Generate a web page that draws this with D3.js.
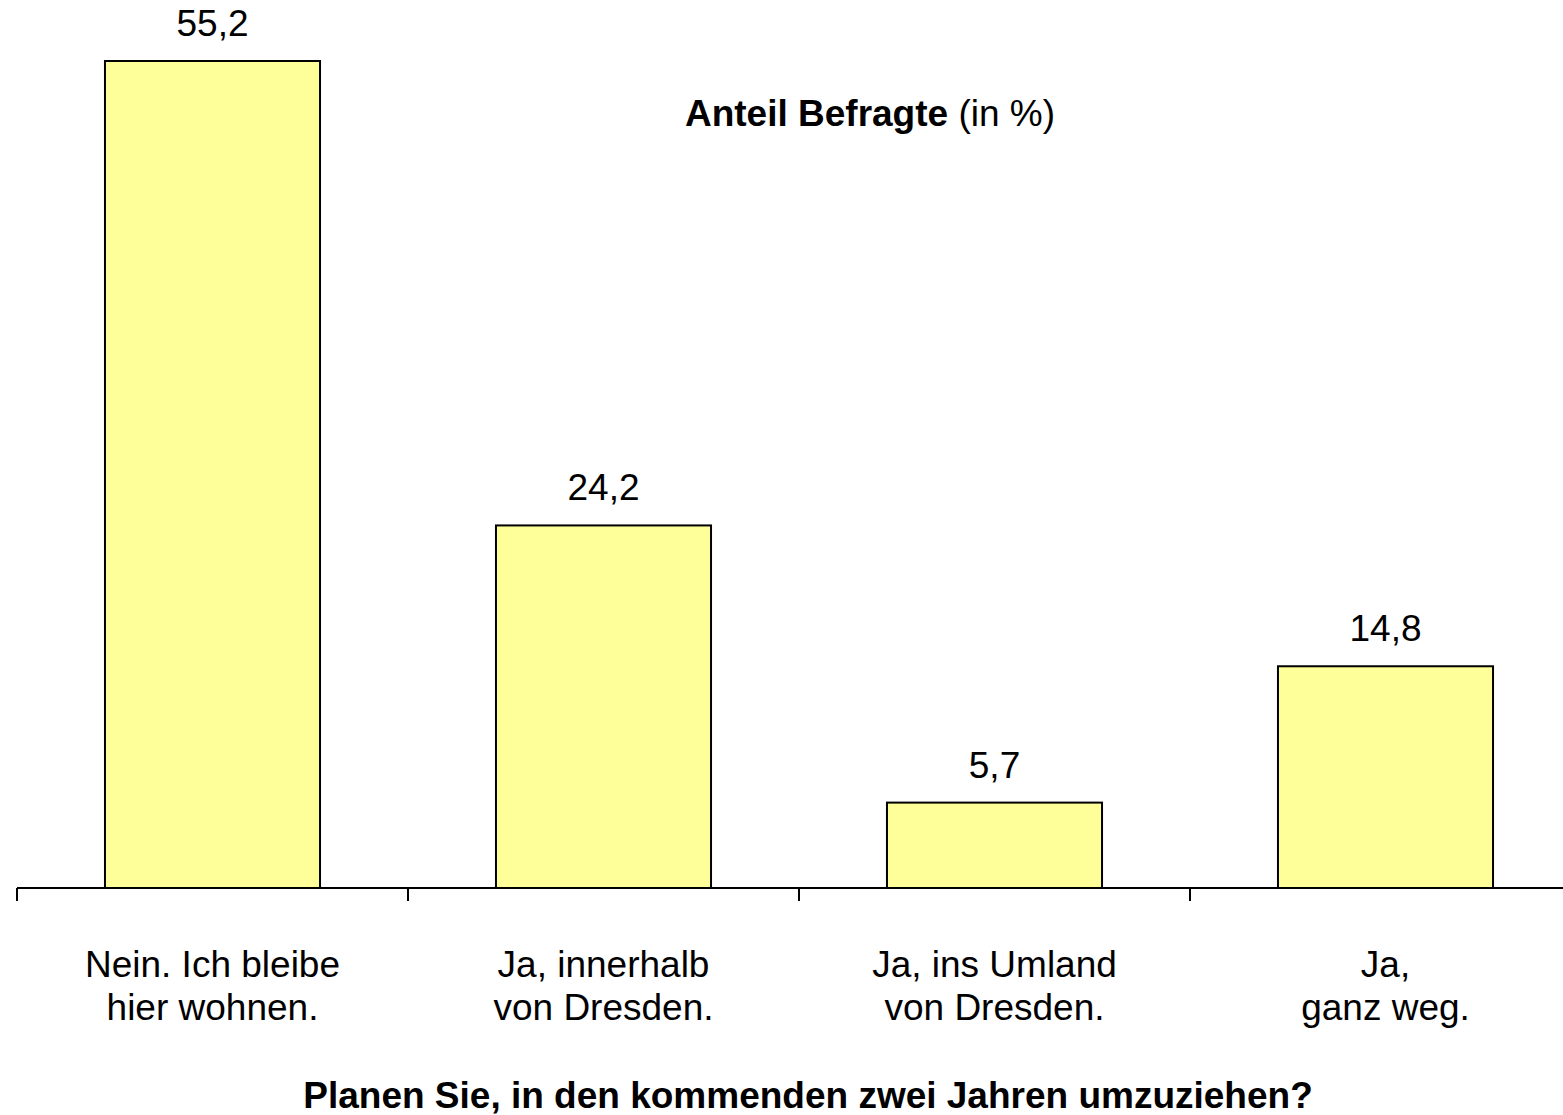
<!DOCTYPE html>
<html>
<head>
<meta charset="utf-8">
<script src="https://cdn.jsdelivr.net/npm/d3@7"></script>
<style>
  html, body { margin: 0; padding: 0; background: #fff; }
  svg { display: block; font-family: "Liberation Sans", Arial, sans-serif; }
</style>
</head>
<body>
<svg id="chart" width="1563" height="1115"></svg>
<script>
// Survey answers: "Planen Sie, in den kommenden zwei Jahren umzuziehen?"
const categories = [
  ["Nein. Ich bleibe", "hier wohnen."],
  ["Ja, innerhalb", "von Dresden."],
  ["Ja, ins Umland", "von Dresden."],
  ["Ja,", "ganz weg."]
];
const values = [55.2, 24.2, 5.7, 14.8];
const valueLabels = ["55,2", "24,2", "5,7", "14,8"];

const svg = d3.select("#chart");
const baseY = 888;
const x0 = 17, band = 391;
const fs = 37;

const x = d3.scaleBand()
  .domain(d3.range(categories.length))
  .range([x0, x0 + band * categories.length])
  .paddingInner(0.45)
  .paddingOuter(0.225);

const y = d3.scaleLinear().domain([0, 55.2]).range([baseY, 61]);

// Bars
svg.append("g").selectAll("rect")
  .data(values)
  .join("rect")
  .attr("x", (d, i) => x(i))
  .attr("y", d => y(d))
  .attr("width", x.bandwidth())
  .attr("height", d => baseY - y(d))
  .attr("fill", "#FFFF99")
  .attr("stroke", "#000")
  .attr("stroke-width", 2);

// Category axis: line with ticks at band boundaries
const axis = svg.append("g");
axis.append("line")
  .attr("x1", x0).attr("x2", 1563)
  .attr("y1", baseY).attr("y2", baseY)
  .attr("stroke", "#000").attr("stroke-width", 2);
axis.selectAll("line.tick")
  .data(d3.range(categories.length))
  .join("line")
  .attr("class", "tick")
  .attr("x1", i => x0 + i * band).attr("x2", i => x0 + i * band)
  .attr("y1", baseY).attr("y2", baseY + 13)
  .attr("stroke", "#000").attr("stroke-width", 2);

// Category labels (two lines each)
const catText = svg.append("g").selectAll("text")
  .data(categories)
  .join("text")
  .attr("text-anchor", "middle")
  .attr("font-size", fs)
  .attr("fill", "#000");
catText.selectAll("tspan")
  .data((d, i) => d.map(t => ({ t, i })))
  .join("tspan")
  .attr("x", d => x(d.i) + x.bandwidth() / 2)
  .attr("y", (d, j) => 977 + j * 43)
  .text(d => d.t);

// Value labels above bars
svg.append("g").selectAll("text")
  .data(values)
  .join("text")
  .attr("x", (d, i) => x(i) + x.bandwidth() / 2)
  .attr("y", d => y(d) - 25)
  .attr("text-anchor", "middle")
  .attr("font-size", fs)
  .attr("fill", "#000")
  .text((d, i) => valueLabels[i]);

// Series title
const title = svg.append("text")
  .attr("x", 870).attr("y", 126)
  .attr("text-anchor", "middle")
  .attr("font-size", fs)
  .attr("fill", "#000");
title.append("tspan").attr("font-weight", "bold").text("Anteil Befragte");
title.append("tspan").text(" (in %)");

// Axis title
svg.append("text")
  .attr("x", 808).attr("y", 1108)
  .attr("text-anchor", "middle")
  .attr("font-size", fs)
  .attr("font-weight", "bold")
  .attr("fill", "#000")
  .text("Planen Sie, in den kommenden zwei Jahren umzuziehen?");
</script>
</body>
</html>
